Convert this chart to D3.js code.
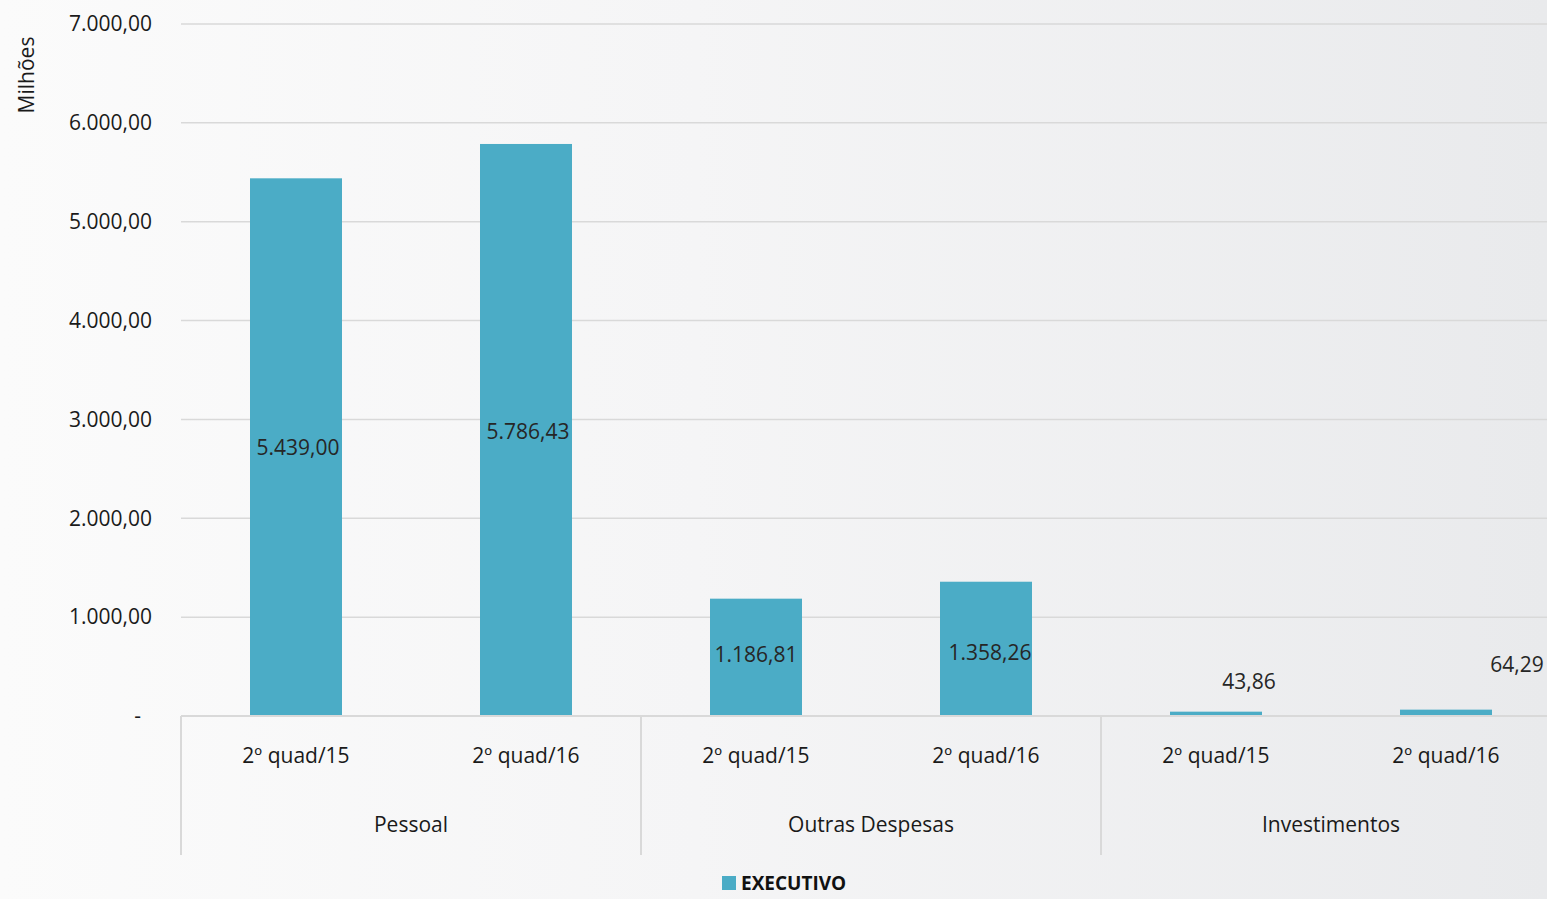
<!DOCTYPE html>
<html>
<head>
<meta charset="utf-8">
<script src="https://cdn.jsdelivr.net/npm/d3@7"></script>
<style>
    body { margin: 0; overflow: hidden; }
    svg { display: block; }
    text { font-family: "Open Sans", "Noto Sans", sans-serif; }
</style>
</head>
<body>
<div id="chart"></div>
<script>
// data
var groups = ['Pessoal', 'Outras Despesas', 'Investimentos'];
var periods = ['2º quad/15', '2º quad/16'];
var values = [5439.00, 5786.43, 1186.81, 1358.26, 43.86, 64.29];
var valueLabels = ['5.439,00', '5.786,43', '1.186,81', '1.358,26', '43,86', '64,29'];
var yTicks = [0, 1000, 2000, 3000, 4000, 5000, 6000, 7000];
var seriesName = 'EXECUTIVO';

var W = 1547, H = 899;
var margin = { top: 24, left: 181, bottom: 183 };
var plotRight = 1561;   // the plot runs a bit past the window edge

var svg = d3.select('#chart')
    .append('svg')
    .attr('width', W)
    .attr('height', H);

var grad = svg.append('defs').append('linearGradient')
    .attr('id', 'bg')
    .attr('x1', '0%').attr('x2', '100%')
    .attr('y1', '0%').attr('y2', '0%');
grad.append('stop').attr('offset', '0%').attr('stop-color', '#fbfbfb');
grad.append('stop').attr('offset', '45%').attr('stop-color', '#f5f5f6');
grad.append('stop').attr('offset', '100%').attr('stop-color', '#e9eaec');

svg.append('rect')
    .attr('width', W).attr('height', H)
    .attr('fill', 'url(#bg)');

var y0 = H - margin.bottom;

var items = [];
groups.forEach(function(g, gi) {
    periods.forEach(function(p, pi) {
        var i = gi * periods.length + pi;
        items.push({ group: g, period: p, value: values[i], label: valueLabels[i], key: i });
    });
});

var xScale = d3.scaleBand()
    .domain(items.map(function(d) { return d.key; }))
    .range([margin.left, plotRight])
    .paddingInner(0.6)
    .paddingOuter(0.3);

var slot = (plotRight - margin.left) / items.length;

var yScale = d3.scaleLinear()
    .domain([0, 7000])
    .range([y0, margin.top]);

var numFormat = function(v) {
    if (v === 0) return '-';
    return d3.format(',.2f')(v).replace(/,/g, 'X').replace('.', ',').replace(/X/g, '.');
};

// gridlines
svg.append('g')
    .selectAll('line')
    .data(yTicks.filter(function(d) { return d > 0; }))
    .enter()
    .append('line')
    .attr('x1', margin.left)
    .attr('x2', plotRight)
    .attr('y1', function(d) { return yScale(d); })
    .attr('y2', function(d) { return yScale(d); })
    .attr('stroke', '#d9d9d9')
    .attr('stroke-width', 1.5);

// y axis labels
var yAxis = d3.axisLeft(yScale)
    .tickValues(yTicks)
    .tickSize(0)
    .tickPadding(29)
    .tickFormat(numFormat);

var yg = svg.append('g')
    .attr('transform', 'translate(' + margin.left + ',0)')
    .call(yAxis);
yg.select('.domain').remove();
yg.selectAll('text')
    .attr('font-size', 21)
    .attr('fill', '#1a1a1a')
    .attr('font-family', '"Open Sans", sans-serif')
    .attr('dx', function(d) { return d === 0 ? -11 : 0; });

svg.append('text')
    .attr('transform', 'translate(34,75) rotate(-90)')
    .attr('text-anchor', 'middle')
    .attr('font-size', 21)
    .attr('fill', '#1a1a1a')
    .text('Milhões');

// bars
svg.append('g')
    .selectAll('rect')
    .data(items)
    .enter()
    .append('rect')
    .attr('x', function(d) { return xScale(d.key); })
    .attr('width', xScale.bandwidth())
    .attr('y', function(d) { return yScale(d.value); })
    .attr('height', function(d) { return y0 - yScale(d.value); })
    .attr('fill', '#4bacc6');

// data labels: inside the bar when it is tall, above it (nudged right) when small
var nudge = { 1: [2, 2], 2: [0, -3], 3: [4, 4], 4: [33, -30], 5: [71, -45] };
svg.append('g')
    .selectAll('text')
    .data(items)
    .enter()
    .append('text')
    .attr('x', function(d) {
        var cx = xScale(d.key) + xScale.bandwidth() / 2;
        return cx + (nudge[d.key] ? nudge[d.key][0] : 2);
    })
    .attr('y', function(d) {
        if (d.key >= 4) return yScale(d.value) + nudge[d.key][1];
        return (yScale(d.value) + y0) / 2 + (nudge[d.key] ? nudge[d.key][1] : 0);
    })
    .attr('dy', '0.35em')
    .attr('text-anchor', 'middle')
    .attr('font-size', 21)
    .attr('fill', '#262626')
    .text(function(d) { return d.label; });

// category axis
svg.append('line')
    .attr('x1', margin.left).attr('x2', plotRight)
    .attr('y1', y0).attr('y2', y0)
    .attr('stroke', '#d9d9d9')
    .attr('stroke-width', 2);

var groupWidth = slot * periods.length;
svg.append('g')
    .selectAll('line')
    .data(d3.range(groups.length + 1))
    .enter()
    .append('line')
    .attr('x1', function(d) { return margin.left + d * groupWidth; })
    .attr('x2', function(d) { return margin.left + d * groupWidth; })
    .attr('y1', y0)
    .attr('y2', y0 + 139)
    .attr('stroke', '#d9d9d9')
    .attr('stroke-width', 2);

svg.append('g')
    .selectAll('text')
    .data(items)
    .enter()
    .append('text')
    .attr('x', function(d) { return xScale(d.key) + xScale.bandwidth() / 2; })
    .attr('y', y0 + 40)
    .attr('dy', '0.35em')
    .attr('text-anchor', 'middle')
    .attr('font-size', 21)
    .attr('fill', '#1a1a1a')
    .text(function(d) { return d.period; });

svg.append('g')
    .selectAll('text')
    .data(groups)
    .enter()
    .append('text')
    .attr('x', function(d, i) { return margin.left + (i + 0.5) * groupWidth; })
    .attr('y', y0 + 109)
    .attr('dy', '0.35em')
    .attr('text-anchor', 'middle')
    .attr('font-size', 21)
    .attr('fill', '#1a1a1a')
    .text(function(d) { return d; });

// legend
var legend = svg.append('g')
    .attr('transform', 'translate(722,876)');
legend.append('rect')
    .attr('width', 14).attr('height', 14)
    .attr('fill', '#4bacc6');
legend.append('text')
    .attr('x', 19)
    .attr('y', 7)
    .attr('dy', '0.35em')
    .attr('font-size', 19)
    .attr('font-weight', 'bold')
    .attr('fill', '#111')
    .text(seriesName);
</script>
</body>
</html>
